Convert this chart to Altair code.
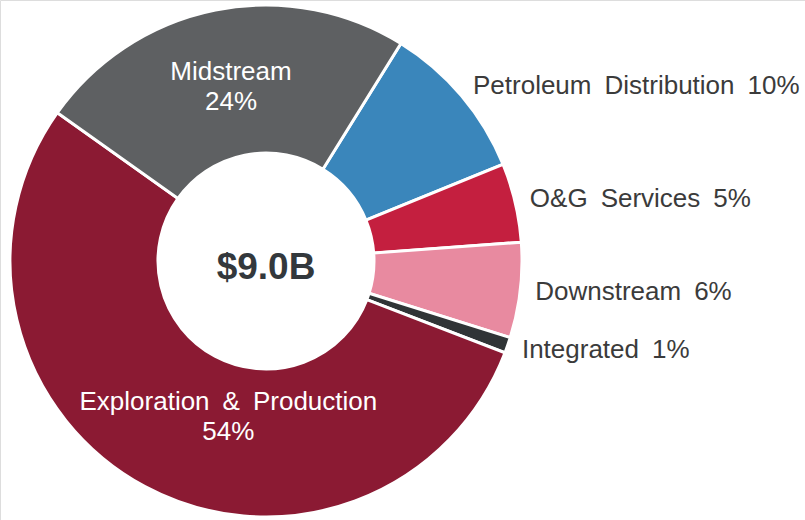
import math
import altair as alt
import pandas as pd

# Segment shares of the $9.0B total, clockwise from the Midstream / Petroleum Distribution edge
segments = ["Petroleum Distribution", "O&G Services", "Downstream", "Integrated",
            "Exploration & Production", "Midstream"]
shares = [10, 5, 6, 1, 54, 24]
colors = ["#3a86bb", "#c41f3f", "#e88aa0", "#303436", "#8b1a33", "#5e6062"]
inside_segments = ["Exploration & Production", "Midstream"]
total_label = "$9.0B"

SP = "\u2002"  # wide word gap used in the slice labels

rows = []
running = 0
for i, (name, share, color) in enumerate(zip(segments, shares, colors)):
    mid = running + share / 2
    running += share
    inside = name in inside_segments
    spaced = name.replace(" ", SP)
    rows.append({
        "segment": name,
        "share": share,
        "order": i,
        "mid": mid,
        "inside": inside,
        "label": f"{spaced}\n{share}%" if inside else f"{spaced}{SP}{share}%",
    })
df = pd.DataFrame(rows)

CX, CY = 266, 261
start = math.radians(31.8)
theta_scale = alt.Scale(domain=[0, 100], range=[start, start + 2 * math.pi])
color_scale = alt.Scale(domain=segments, range=colors)
FONT = "Liberation Sans"

base = alt.Chart(df)

arcs = base.mark_arc(innerRadius=108, outerRadius=256, stroke="white", strokeWidth=3).encode(
    x=alt.value(CX),
    y=alt.value(CY),
    theta=alt.Theta("share:Q", scale=theta_scale, stack=True),
    order=alt.Order("order:Q", sort="ascending"),
    color=alt.Color("segment:N", scale=color_scale, legend=None),
)

outer_text = base.transform_filter("!datum.inside").mark_text(
    align="left", baseline="middle", font=FONT, fontSize=26, color="#3b3b3b"
).encode(
    x=alt.value(CX),
    y=alt.value(CY),
    theta=alt.Theta("mid:Q", scale=theta_scale, stack=None),
    radius=alt.value(271),
    text="label:N",
)

mid_text = base.transform_filter("datum.segment == 'Midstream'").mark_text(
    align="center", baseline="middle", font=FONT, fontSize=26,
    color="white", lineBreak="\n", lineHeight=30, dy=-15
).encode(
    x=alt.value(CX),
    y=alt.value(CY),
    theta=alt.Theta("mid:Q", scale=theta_scale, stack=None),
    radius=alt.value(177),
    text="label:N",
)

ep_text = base.transform_filter("datum.segment == 'Exploration & Production'").mark_text(
    align="center", baseline="middle", font=FONT, fontSize=26,
    color="white", lineBreak="\n", lineHeight=30, dx=46, dy=-15
).encode(
    x=alt.value(CX),
    y=alt.value(CY),
    theta=alt.Theta("mid:Q", scale=theta_scale, stack=None),
    radius=alt.value(177),
    text="label:N",
)

center = alt.Chart(pd.DataFrame({"t": [total_label]})).mark_text(
    align="center", baseline="middle", font=FONT, fontSize=37,
    fontWeight="bold", color="#33383c"
).encode(x=alt.value(CX), y=alt.value(268), text="t:N")

chart = alt.layer(arcs, outer_text, mid_text, ep_text, center).properties(
    width=805, height=520, padding=0, autosize=alt.AutoSizeParams(type="none")
).configure_view(stroke=None).configure(background="white")

chart.save("out.html", embed_options={"renderer": "svg", "actions": False})
